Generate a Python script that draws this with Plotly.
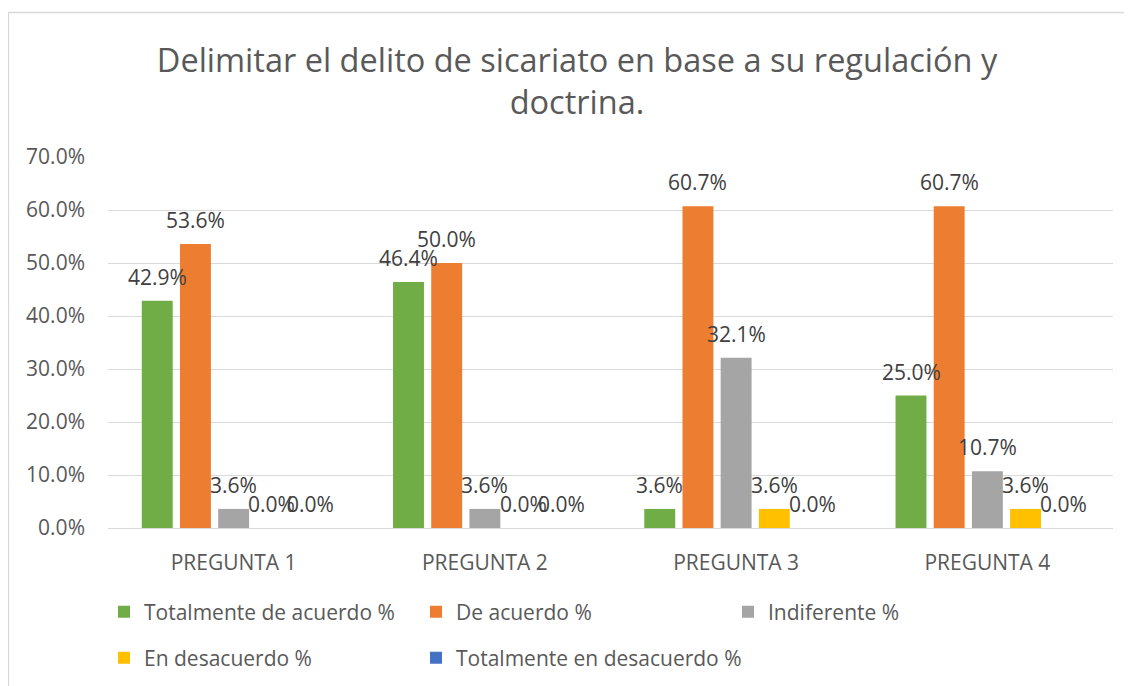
import plotly.graph_objects as go

categories = ["PREGUNTA 1", "PREGUNTA 2", "PREGUNTA 3", "PREGUNTA 4"]
series_names = ["Totalmente de acuerdo %", "De acuerdo %", "Indiferente %",
                "En desacuerdo %", "Totalmente en desacuerdo %"]
totalmente_de_acuerdo = [0.429, 0.464, 0.036, 0.250]
de_acuerdo = [0.536, 0.500, 0.607, 0.607]
indiferente = [0.036, 0.036, 0.321, 0.107]
en_desacuerdo = [0.0, 0.0, 0.036, 0.036]
totalmente_en_desacuerdo = [0.0, 0.0, 0.0, 0.0]
y_ticks = [0, 0.1, 0.2, 0.3, 0.4, 0.5, 0.6, 0.7]

series_values = [totalmente_de_acuerdo, de_acuerdo, indiferente,
                 en_desacuerdo, totalmente_en_desacuerdo]
colors = ["#70AD47", "#ED7D31", "#A5A5A5", "#FFC000", "#4472C4"]
legend_ids = ["legend", "legend", "legend", "legend2", "legend3"]

FONT = "Open Sans"
FS = 21
BARGAP = 0.24
BARGROUPGAP = 0.19
OFF = 8  # page body margin

fig = go.Figure()
for name, vals, col, lg in zip(series_names, series_values, colors, legend_ids):
    fig.add_trace(go.Bar(
        name=name, x=categories, y=vals, marker_color=col,
        marker_line_width=0, legend=lg,
    ))

# data labels above each bar
n = len(series_names)
slot = (1 - BARGAP) / n
annotations = []
for j, vals in enumerate(series_values):
    for ci, v in enumerate(vals):
        annotations.append(dict(
            x=ci + (j - (n - 1) / 2) * slot, y=v, xref="x", yref="y",
            text=f"{v*100:.1f}%", showarrow=False,
            yanchor="middle", yshift=24,
            font=dict(family=FONT, size=FS, color="#404040"),
        ))

W, H = 1132 - OFF, 686 - OFF
L, R, T, B = 108 - OFF, 19, 157 - OFF, 158
pw, ph = W - L - R, H - T - B

def px_x(px):
    return (px - OFF - L) / pw

def px_y(py):
    return (H - B - (py - OFF)) / ph

def cx(px):
    return (px - OFF) / W

def cy(py):
    return 1 - (py - OFF) / H

legend_font = dict(family=FONT, size=FS, color="#595959")

fig.update_layout(
    width=W, height=H,
    margin=dict(l=L, r=R, t=T, b=B, autoexpand=False),
    paper_bgcolor="white", plot_bgcolor="white",
    barmode="group", bargap=BARGAP, bargroupgap=BARGROUPGAP,
    font=dict(family=FONT, color="#595959"),
    title=dict(
        text="Delimitar el delito de sicariato en base a su regulación y<br>doctrina.",
        x=cx(577), xanchor="center", xref="container",
        y=cy(72), yanchor="middle", yref="container",
        font=dict(family=FONT, size=32.5, color="#595959"),
    ),
    yaxis=dict(
        range=[0, 0.7], tickvals=y_ticks, tickformat=".1%",
        showgrid=True, gridcolor="#D9D9D9", gridwidth=1.3,
        zeroline=True, zerolinecolor="#D9D9D9", zerolinewidth=1.3,
        showline=False, ticks="", automargin=False,
        tickfont=dict(family=FONT, size=FS, color="#595959"),
        ticklabelstandoff=22,
    ),
    xaxis=dict(
        type="category", showgrid=False, showline=False, ticks="",
        automargin=False,
        tickfont=dict(family=FONT, size=FS, color="#595959"),
        ticklabelstandoff=20,
    ),
    legend=dict(
        orientation="h", x=cx(104), xanchor="left", xref="container",
        y=cy(612), yanchor="middle", yref="container", entrywidth=267,
        font=legend_font, bgcolor="rgba(0,0,0,0)",
    ),
    legend2=dict(
        orientation="h", x=cx(104), xanchor="left", xref="container",
        y=cy(658), yanchor="middle", yref="container",
        font=legend_font, bgcolor="rgba(0,0,0,0)",
    ),
    legend3=dict(
        orientation="h", x=cx(416), xanchor="left", xref="container",
        y=cy(658), yanchor="middle", yref="container",
        font=legend_font, bgcolor="rgba(0,0,0,0)",
    ),
    annotations=annotations,
    shapes=[dict(
        type="rect", xref="paper", yref="paper",
        x0=px_x(8.5), x1=px_x(1140), y0=px_y(700), y1=px_y(12.5),
        line=dict(color="#D9D9D9", width=1.3), fillcolor="rgba(0,0,0,0)",
        layer="below",
    )],
)

fig.write_html("out.html")
